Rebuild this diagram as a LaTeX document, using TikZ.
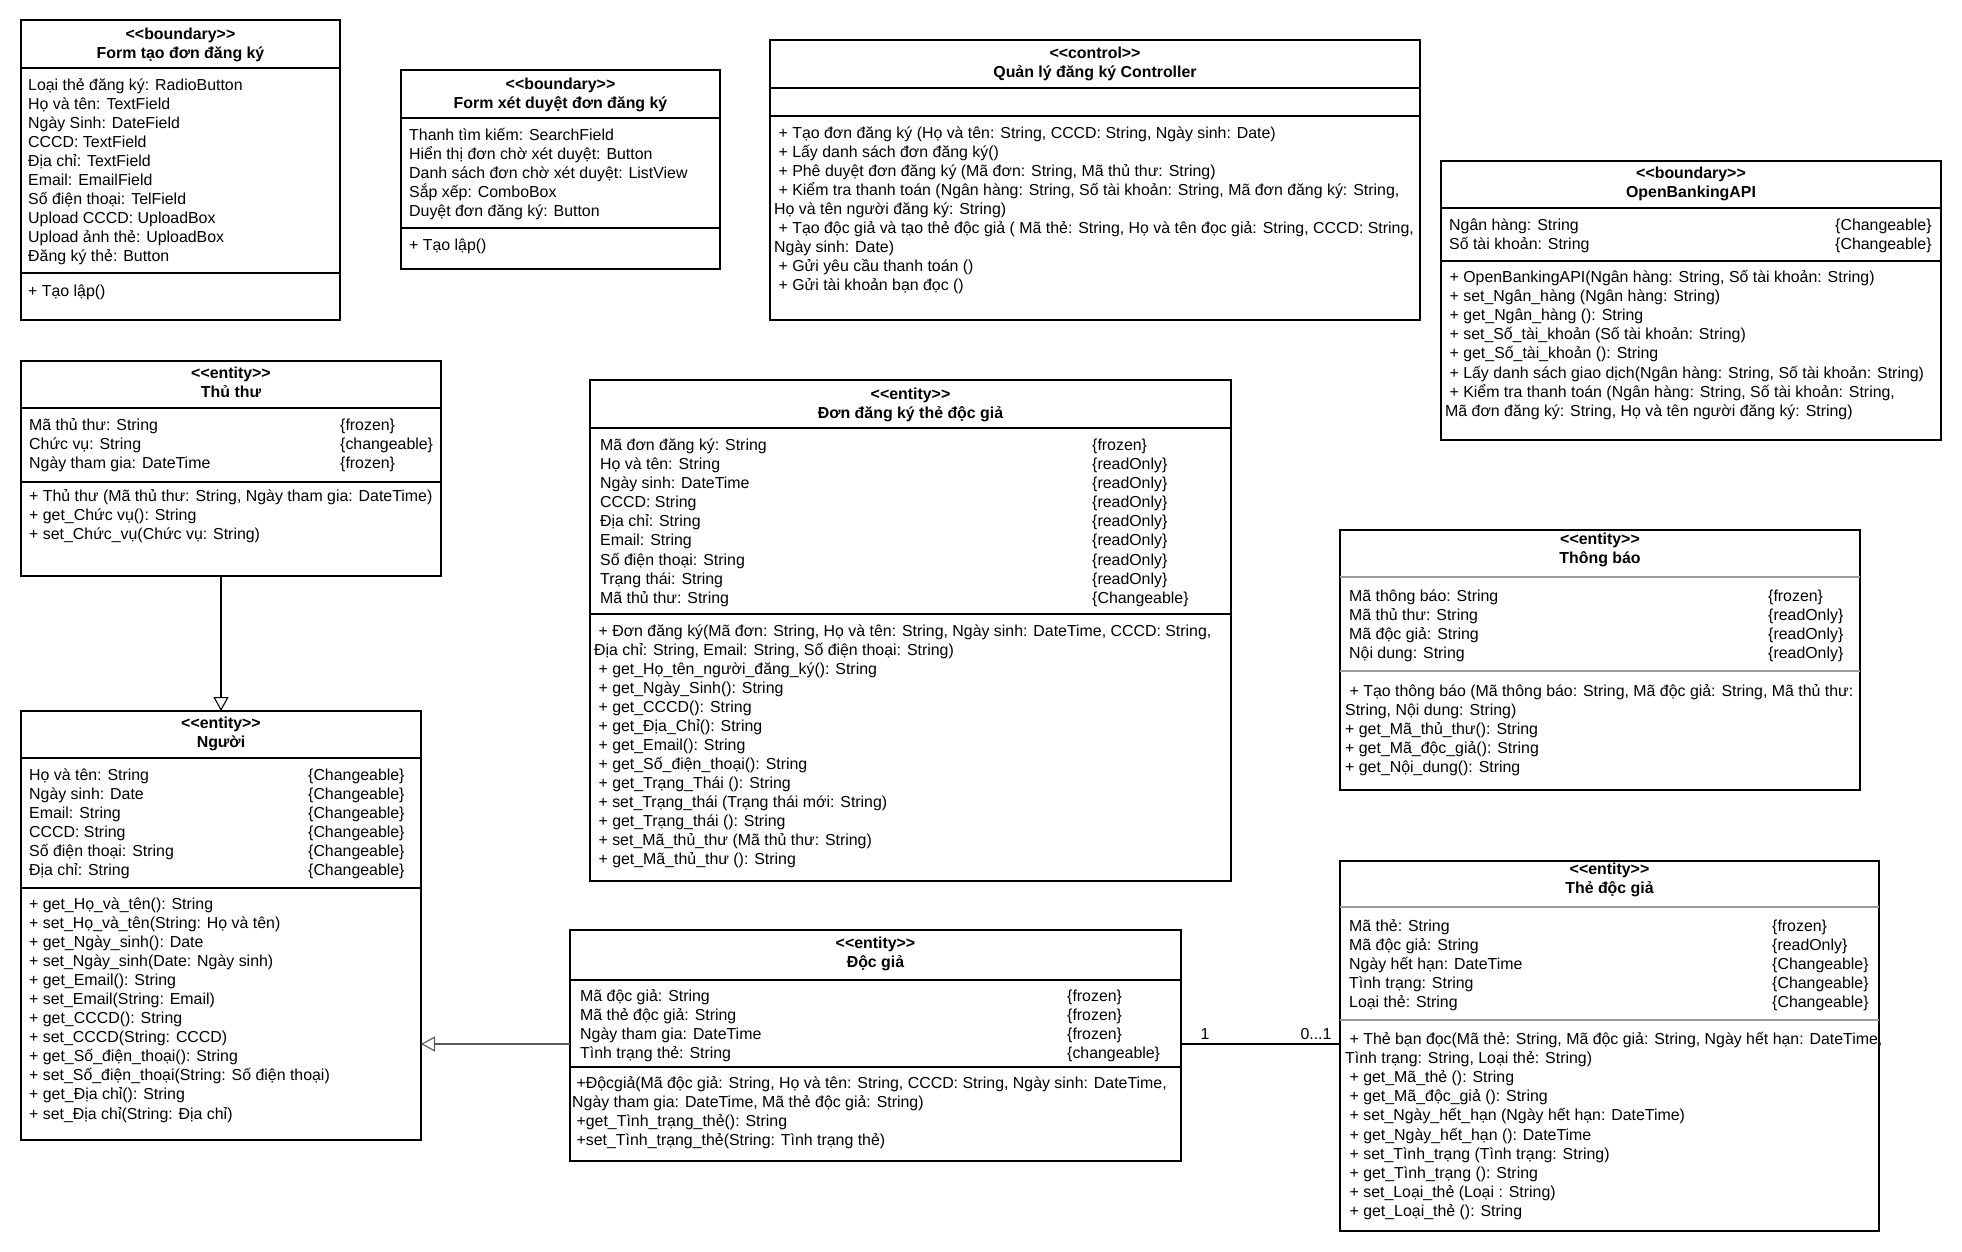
\documentclass[tikz,border=0pt]{standalone}
\usepackage{fontspec}
\setmainfont{Liberation Sans}
\usetikzlibrary{arrows.meta}
\newcommand\ind{\hspace*{4.4pt}}
\newcommand\stereo[1]{<\kern0pt<#1>\kern0pt>}
\tikzset{
 umlbox/.style={draw, line width=1.1pt, anchor=north west, inner sep=0pt, outer sep=0pt},
 txt/.style={anchor=base west, inner sep=0pt, font=\fontsize{15.9}{19.1}\selectfont},
 hdr/.style={anchor=base, inner sep=0pt, font=\fontsize{15.9}{19.1}\selectfont\bfseries},
 sepline/.style={line width=1.1pt},
 lightsep/.style={line width=1.1pt, draw=black!40},
 gen/.style={-{Triangle[open, length=14pt, width=15pt]}, line width=1.1pt},
 assoc/.style={line width=1.1pt},
 mult/.style={inner sep=0pt, font=\fontsize{15.9}{19.1}\selectfont},
}
\newcommand\ubox[5]{\node[umlbox, minimum width=#4pt, minimum height=#5pt] (#1) at (#2,#3) {};}
\newcommand\uhead[5]{%
 \node[hdr] (#1-st) at (#2,#3) {\stereo{#4}};
 \node[hdr] (#1-nm) at (#2,{#3+19}) {#5};}
\newcommand\urows[5]{\foreach \t [count=\i] in {#5} {\node[txt] (#1\i) at (#2,{#3+(\i-1)*#4}) {\t};}}
\begin{document}
\begin{tikzpicture}[x=1pt,y=-1pt]
\fill[white] (0,0) rectangle (1962,1251);
\useasboundingbox (0,0) rectangle (1962,1251);

% ---------- Form tao don dang ky
\ubox{formtao}{21}{20}{319}{300}
\uhead{formtao}{180.5}{39}{boundary}{Form tạo đơn đăng ký}
\draw[sepline] (21,68) -- (340,68);
\draw[sepline] (21,273) -- (340,273);
\urows{formtao-a}{28}{90}{19.07}{{Loại thẻ đăng ký: RadioButton},{Họ và tên: TextField},{Ngày Sinh: DateField},{CCCD: TextField},{Địa chỉ: TextField},{Email: EmailField},{Số điện thoại: TelField},{Upload CCCD: UploadBox},{Upload ảnh thẻ: UploadBox},{Đăng ký thẻ: Button}}
\urows{formtao-m}{28}{296}{19}{{+ Tạo lập()}}

% ---------- Form xet duyet
\ubox{formxet}{401}{70}{319}{199}
\uhead{formxet}{560.5}{89}{boundary}{Form xét duyệt đơn đăng ký}
\draw[sepline] (401,118) -- (720,118);
\draw[sepline] (401,228) -- (720,228);
\urows{formxet-a}{409}{140}{19.1}{{Thanh tìm kiếm: SearchField},{Hiển thị đơn chờ xét duyệt: Button},{Danh sách đơn chờ xét duyệt: ListView},{Sắp xếp: ComboBox},{Duyệt đơn đăng ký: Button}}
\urows{formxet-m}{409}{250}{19}{{+ Tạo lập()}}

% ---------- Controller
\ubox{ctrl}{770}{40}{650}{280}
\uhead{ctrl}{1095}{58}{control}{Quản lý đăng ký Controller}
\draw[sepline] (770,88) -- (1420,88);
\draw[sepline] (770,116) -- (1420,116);
\urows{ctrl-m}{774}{138}{19.1}{{\ind + Tạo đơn đăng ký (Họ và tên: String, CCCD: String, Ngày sinh: Date)},{\ind + Lấy danh sách đơn đăng ký()},{\ind + Phê duyệt đơn đăng ký (Mã đơn: String, Mã thủ thư: String)},{\ind + Kiểm tra thanh toán (Ngân hàng: String, Số tài khoản: String, Mã đơn đăng ký: String,},{Họ và tên người đăng ký: String)},{\ind + Tạo độc giả và tạo thẻ độc giả ( Mã thẻ: String, Họ và tên đọc giả: String, CCCD: String,},{Ngày sinh: Date)},{\ind + Gửi yêu cầu thanh toán ()},{\ind + Gửi tài khoản bạn đọc ()}}

% ---------- OpenBankingAPI
\ubox{obapi}{1441}{161}{500}{279}
\uhead{obapi}{1691}{178}{boundary}{OpenBankingAPI}
\draw[sepline] (1441,208) -- (1941,208);
\draw[sepline] (1441,261) -- (1941,261);
\urows{obapi-a}{1449}{230}{19.2}{{Ngân hàng: String},{Số tài khoản: String}}
\urows{obapi-c}{1835}{230}{19.2}{{\{Changeable\}},{\{Changeable\}}}
\urows{obapi-m}{1445}{282}{19.2}{{\ind + OpenBankingAPI(Ngân hàng: String, Số tài khoản: String)},{\ind + set\_Ngân\_hàng (Ngân hàng: String)},{\ind + get\_Ngân\_hàng (): String},{\ind + set\_Số\_tài\_khoản (Số tài khoản: String)},{\ind + get\_Số\_tài\_khoản (): String},{\ind + Lấy danh sách giao dịch(Ngân hàng: String, Số tài khoản: String)},{\ind + Kiểm tra thanh toán (Ngân hàng: String, Số tài khoản: String,},{Mã đơn đăng ký: String, Họ và tên người đăng ký: String)}}

% ---------- Thu thu
\ubox{thuthu}{21}{361}{420}{215}
\uhead{thuthu}{231}{378}{entity}{Thủ thư}
\draw[sepline] (21,408) -- (441,408);
\draw[sepline] (21,482) -- (441,482);
\urows{thuthu-a}{29}{430}{19.33}{{Mã thủ thư: String},{Chức vụ: String},{Ngày tham gia: DateTime}}
\urows{thuthu-c}{340}{430}{19.33}{{\{frozen\}},{\{changeable\}},{\{frozen\}}}
\urows{thuthu-m}{29}{501}{19.1}{{+ Thủ thư (Mã thủ thư: String, Ngày tham gia: DateTime)},{+ get\_Chức vụ(): String},{+ set\_Chức\_vụ(Chức vụ: String)}}

% ---------- Don dang ky the doc gia
\ubox{dondk}{590}{380}{641}{501}
\uhead{dondk}{910.5}{399}{entity}{Đơn đăng ký thẻ độc giả}
\draw[sepline] (590,428) -- (1231,428);
\draw[sepline] (590,614) -- (1231,614);
\urows{dondk-a}{600}{450}{19.17}{{Mã đơn đăng ký: String},{Họ và tên: String},{Ngày sinh: DateTime},{CCCD: String},{Địa chỉ: String},{Email: String},{Số điện thoại: String},{Trạng thái: String},{Mã thủ thư: String}}
\urows{dondk-c}{1092}{450}{19.17}{{\{frozen\}},{\{readOnly\}},{\{readOnly\}},{\{readOnly\}},{\{readOnly\}},{\{readOnly\}},{\{readOnly\}},{\{readOnly\}},{\{Changeable\}}}
\urows{dondk-m}{594}{636}{19.08}{{\ind + Đơn đăng ký(Mã đơn: String, Họ và tên: String, Ngày sinh: DateTime, CCCD: String,},{Địa chỉ: String, Email: String, Số điện thoại: String)},{\ind + get\_Họ\_tên\_người\_đăng\_ký(): String},{\ind + get\_Ngày\_Sinh(): String},{\ind + get\_CCCD(): String},{\ind + get\_Địa\_Chỉ(): String},{\ind + get\_Email(): String},{\ind + get\_Số\_điện\_thoại(): String},{\ind + get\_Trạng\_Thái (): String},{\ind + set\_Trạng\_thái (Trạng thái mới: String)},{\ind + get\_Trạng\_thái (): String},{\ind + set\_Mã\_thủ\_thư (Mã thủ thư: String)},{\ind + get\_Mã\_thủ\_thư (): String}}

% ---------- Thong bao
\ubox{thongbao}{1340}{530}{520}{260}
\uhead{thongbao}{1600}{544}{entity}{Thông báo}
\draw[lightsep] (1340,577) -- (1860,577);
\draw[lightsep] (1340,671) -- (1860,671);
\urows{thongbao-a}{1349}{601}{19.2}{{Mã thông báo: String},{Mã thủ thư: String},{Mã độc giả: String},{Nội dung: String}}
\urows{thongbao-c}{1768}{601}{19.2}{{\{frozen\}},{\{readOnly\}},{\{readOnly\}},{\{readOnly\}}}
\urows{thongbao-m}{1345}{696}{19.1}{{\ind + Tạo thông báo (Mã thông báo: String, Mã độc giả: String, Mã thủ thư:},{String, Nội dung: String)},{+ get\_Mã\_thủ\_thư(): String},{+ get\_Mã\_độc\_giả(): String},{+ get\_Nội\_dung(): String}}

% ---------- Nguoi
\ubox{nguoi}{21}{711}{400}{429}
\uhead{nguoi}{221}{728}{entity}{Người}
\draw[sepline] (21,758) -- (421,758);
\draw[sepline] (21,888) -- (421,888);
\urows{nguoi-a}{29}{780}{19.13}{{Họ và tên: String},{Ngày sinh: Date},{Email: String},{CCCD: String},{Số điện thoại: String},{Địa chỉ: String}}
\urows{nguoi-c}{308}{780}{19.13}{{\{Changeable\}},{\{Changeable\}},{\{Changeable\}},{\{Changeable\}},{\{Changeable\}},{\{Changeable\}}}
\urows{nguoi-m}{29}{909}{19.09}{{+ get\_Họ\_và\_tên(): String},{+ set\_Họ\_và\_tên(String: Họ và tên)},{+ get\_Ngày\_sinh(): Date},{+ set\_Ngày\_sinh(Date: Ngày sinh)},{+ get\_Email(): String},{+ set\_Email(String: Email)},{+ get\_CCCD(): String},{+ set\_CCCD(String: CCCD)},{+ get\_Số\_điện\_thoại(): String},{+ set\_Số\_điện\_thoại(String: Số điện thoại)},{+ get\_Địa chỉ(): String},{+ set\_Địa chỉ(String: Địa chỉ)}}

% ---------- Doc gia
\ubox{docgia}{570}{930}{611}{231}
\uhead{docgia}{875.5}{948}{entity}{Độc giả}
\draw[sepline] (570,980) -- (1181,980);
\draw[sepline] (570,1067) -- (1181,1067);
\urows{docgia-a}{580}{1001}{19.2}{{Mã độc giả: String},{Mã thẻ độc giả: String},{Ngày tham gia: DateTime},{Tình trạng thẻ: String}}
\urows{docgia-c}{1067}{1001}{19.2}{{\{frozen\}},{\{frozen\}},{\{frozen\}},{\{changeable\}}}
\urows{docgia-m}{572}{1088}{19}{{\ind +Độcgiả(Mã độc giả: String, Họ và tên: String, CCCD: String, Ngày sinh: DateTime,},{Ngày tham gia: DateTime, Mã thẻ độc giả: String)},{\ind +get\_Tình\_trạng\_thẻ(): String},{\ind +set\_Tình\_trạng\_thẻ(String: Tình trạng thẻ)}}

% ---------- The doc gia
\ubox{thedg}{1340}{861}{539}{370}
\uhead{thedg}{1609.5}{874}{entity}{Thẻ độc giả}
\draw[lightsep] (1340,907) -- (1879,907);
\draw[lightsep] (1340,1020) -- (1879,1020);
\urows{thedg-a}{1349}{931}{19}{{Mã thẻ: String},{Mã độc giả: String},{Ngày hết hạn: DateTime},{Tình trạng: String},{Loại thẻ: String}}
\urows{thedg-c}{1772}{931}{19}{{\{frozen\}},{\{readOnly\}},{\{Changeable\}},{\{Changeable\}},{\{Changeable\}}}
\urows{thedg-m}{1345}{1044}{19.2}{{\ind + Thẻ bạn đọc(Mã thẻ: String, Mã độc giả: String, Ngày hết hạn: DateTime,},{Tình trạng: String, Loại thẻ: String)},{\ind + get\_Mã\_thẻ (): String},{\ind + get\_Mã\_độc\_giả (): String},{\ind + set\_Ngày\_hết\_hạn (Ngày hết hạn: DateTime)},{\ind + get\_Ngày\_hết\_hạn (): DateTime},{\ind + set\_Tình\_trạng (Tình trạng: String)},{\ind + get\_Tình\_trạng (): String},{\ind + set\_Loại\_thẻ (Loại : String)},{\ind + get\_Loại\_thẻ (): String}}

% ---------- Connectors
\coordinate (gy) at (0,1044);
\draw[gen] (nguoi.north |- thuthu.south) -- (nguoi.north);
\draw[gen, draw=black!65] (docgia.west |- gy) -- (nguoi.east |- gy);
\draw[assoc] (docgia.east |- gy) -- (thedg.west |- gy);
\node[mult] (m1) at (1205,1034) {1};
\node[mult] (m2) at (1316,1034) {0...1};
\end{tikzpicture}
\end{document}
